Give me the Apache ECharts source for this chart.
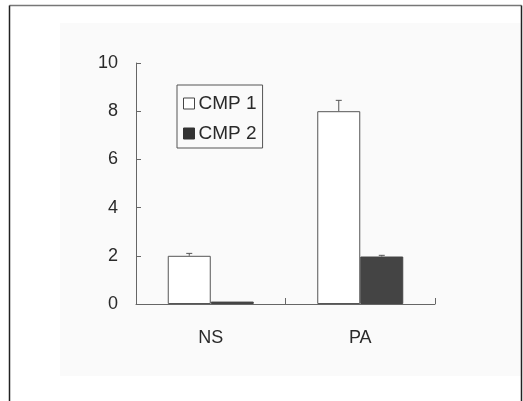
<!DOCTYPE html>
<html>
<head>
<meta charset="utf-8">
<script src="https://cdn.jsdelivr.net/npm/echarts@6/dist/echarts.min.js"></script>
<style>
html,body{margin:0;padding:0;background:#fff;}
#chart{width:523px;height:401px;}
</style>
</head>
<body>
<div id="chart"></div>
<script>
var categories = ['NS', 'PA'];
var seriesNames = ['CMP 1', 'CMP 2'];
var cmp1Values = [2.0, 8.0];
var cmp2Values = [0.1, 1.97];
var cmp1Errors = [0.1, 0.45];
var cmp2Errors = [0.0, 0.05];
var yTicks = [0, 2, 4, 6, 8, 10];

var BAR_W = 43;
var FONT = 'Liberation Sans, Arial, sans-serif';

function errData(vals, errs) {
  return vals.map(function (v, i) { return [i, v, v + errs[i]]; });
}
function errRender(offsetSign) {
  return function (params, api) {
    var x = api.value(0);
    var lo = api.coord([x, api.value(1)]);
    var hi = api.coord([x, api.value(2)]);
    var cx = lo[0] + offsetSign * BAR_W / 2;
    if (Math.abs(hi[1] - lo[1]) < 0.5) return null;
    var st = { stroke: '#555', lineWidth: 1 };
    return {
      type: 'group',
      children: [
        { type: 'line', shape: { x1: cx, y1: lo[1], x2: cx, y2: hi[1] }, style: st },
        { type: 'line', shape: { x1: cx - 3, y1: hi[1], x2: cx + 3, y2: hi[1] }, style: st }
      ]
    };
  };
}

var chart = echarts.init(document.getElementById('chart'), null, { renderer: 'canvas' });
chart.setOption({
  animation: false,
  backgroundColor: '#ffffff',
  textStyle: { fontFamily: FONT },
  graphic: [
    { type: 'rect', z: -20, shape: { x: 60, y: 23, width: 461, height: 353 }, style: { fill: '#fafafa' } },
    { type: 'line', z: 100, shape: { x1: 9.5, y1: 5.5, x2: 521.5, y2: 5.5 }, style: { stroke: '#777', lineWidth: 1.5 } },
    { type: 'line', z: 100, shape: { x1: 9.5, y1: 5.5, x2: 9.5, y2: 401 }, style: { stroke: '#222', lineWidth: 1.5 } },
    { type: 'line', z: 100, shape: { x1: 521.5, y1: 5.5, x2: 521.5, y2: 401 }, style: { stroke: '#222', lineWidth: 1.5 } }
  ],
  grid: { left: 136, top: 63, right: 88, bottom: 97, containLabel: false },
  legend: {
    data: [
      { name: 'CMP 1', icon: 'rect', itemStyle: { color: '#fff', borderColor: '#444', borderWidth: 1 } },
      { name: 'CMP 2', icon: 'rect', itemStyle: { color: '#333', borderColor: '#333', borderWidth: 1 } }
    ],
    orient: 'vertical',
    left: 177, top: 85,
    itemWidth: 11, itemHeight: 11,
    itemGap: 11,
    padding: [9, 6, 5, 6],
    borderColor: '#555', borderWidth: 1,
    textStyle: { fontSize: 19, color: '#2a2a2a', fontFamily: FONT, padding: [0, 0, 0, -1] },
    selectedMode: false
  },
  xAxis: {
    type: 'category',
    data: categories,
    boundaryGap: true,
    axisLine: { lineStyle: { color: '#666', width: 1 } },
    axisTick: { show: true, inside: true, length: 6, alignWithLabel: false, lineStyle: { color: '#666', width: 1 } },
    axisLabel: { fontSize: 18, color: '#2a2a2a', margin: 25, fontFamily: FONT }
  },
  yAxis: {
    type: 'value',
    min: 0, max: 10, interval: 2,
    splitLine: { show: false },
    axisLine: { show: true, lineStyle: { color: '#666', width: 1 } },
    axisTick: { show: true, inside: true, length: 5, lineStyle: { color: '#666' } },
    axisLabel: {
      fontSize: 18, color: '#2a2a2a', margin: 18, fontFamily: FONT,
      formatter: function (v) { return yTicks.indexOf(v) >= 0 ? String(v) : ''; }
    }
  },
  series: [
    {
      name: 'CMP 1', type: 'bar', data: cmp1Values, barWidth: BAR_W, barGap: '0%',
      itemStyle: { color: '#ffffff', borderColor: '#555', borderWidth: 1 }
    },
    {
      name: 'CMP 2', type: 'bar', data: cmp2Values, barWidth: BAR_W, barGap: '0%',
      itemStyle: { color: '#444', borderColor: '#444', borderWidth: 1 }
    },
    { type: 'custom', name: 'err1', data: errData(cmp1Values, cmp1Errors), renderItem: errRender(-1), z: 5, silent: true },
    { type: 'custom', name: 'err2', data: errData(cmp2Values, cmp2Errors), renderItem: errRender(1), z: 5, silent: true }
  ]
});
</script>
</body>
</html>
